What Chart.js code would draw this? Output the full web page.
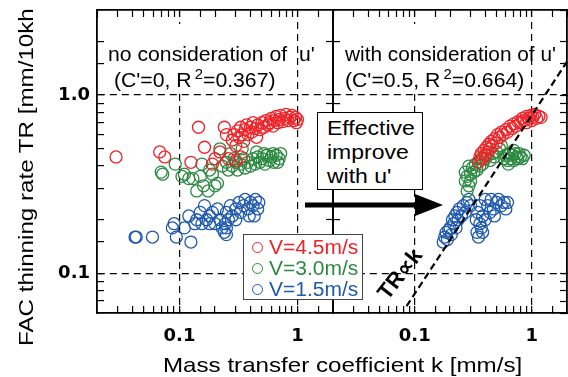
<!DOCTYPE html>
<html>
<head>
<meta charset="utf-8">
<script src="https://cdn.jsdelivr.net/npm/chart.js"></script>
<style>
  body { margin: 0; background: #fff; }
  #wrap { position: relative; width: 568px; height: 377px; overflow: hidden; font-family: "Liberation Sans", Arial, sans-serif; color: #000; }
  canvas { position: absolute; top: 0; }
  .abs { position: absolute; white-space: nowrap; }
  .st { display: inline-block; transform-origin: 0 50%; }
  .mask { position: absolute; background: #fff; }
</style>
</head>
<body>
<div id="wrap">
  <canvas id="left" width="334" height="377" style="left:0"></canvas>
  <canvas id="right" width="236" height="377" style="left:332px"></canvas>

  <div class="mask" style="left:106px;top:24px;width:186px;height:69px"></div>
  <div class="mask" style="left:342px;top:24px;width:186px;height:69px"></div>

  <div class="abs" style="left:108px;top:44px;font-size:20px;line-height:20px">
    <span class="st" style="transform:scaleX(1.06)">no consideration of&nbsp; u'</span><br>
    <span class="st" style="transform:scaleX(1.06)">&nbsp;(C'=0, R<sup style="font-size:14px;vertical-align:8px;margin-left:3px">2</sup>=0.367)</span>
  </div>
  <div class="abs" style="left:345px;top:44px;font-size:20px;line-height:20px">
    <span class="st" style="transform:scaleX(1.04)">with consideration of u'</span><br>
    <span class="st" style="transform:scaleX(1.06)">(C'=0.5, R<sup style="font-size:14px;vertical-align:8px;margin-left:3px">2</sup>=0.664)</span>
  </div>

  <div class="abs" style="left:317px;top:112px;width:104px;height:76px;border:1px solid #000;background:#fff;font-size:20px;line-height:24px">
    <div style="padding:3px 0 0 9px">
      <span class="st" style="transform:scaleX(1.15)">Effective</span><br>
      <span class="st" style="transform:scaleX(1.15)">improve</span><br>
      <span class="st" style="transform:scaleX(1.15)">with u'</span>
    </div>
  </div>

  <svg class="abs" style="left:0;top:0" width="568" height="377">
    <line x1="305" y1="205" x2="420" y2="205" stroke="#000" stroke-width="5"/>
    <polygon points="415,194 443,205 415,216" fill="#000"/>
  </svg>

  <div id="legend" class="abs" style="left:243px;top:234px;width:118px;height:64px;border:1px solid #444;background:#fff"></div>

  <div class="abs" style="left:400px;top:274px;font-size:22px;font-weight:bold;transform:translate(-50%,-50%) rotate(-52deg)">TR∝k</div>

  <div class="abs" style="left:15px;top:346px;font-size:21px;line-height:22px;transform-origin:0 0;transform:rotate(-90deg) scaleX(1.15)">FAC thinning rate TR [mm/10kh</div>
  <div class="abs" style="left:163px;top:355px;font-size:21px;line-height:20px;transform-origin:0 0;transform:scaleX(1.15)">Mass transfer coefficient k [mm/s]</div>
</div>

<script>
// axis ranges and tick labels
const kRange = [0.02, 2];
const trRange = [0.06, 3];
const xTickLabels = { 0.1: "0.1", 1: "1" };
const yTickLabels = { 0.1: "0.1", 1: "1.0" };
const crossTicks = [2, 0.9, 0.2, 0.08];

const seriesNames = ["V=4.5m/s", "V=3.0m/s", "V=1.5m/s"];
const seriesColors = ["#ee2328", "#2c8a43", "#1f5aae"];

// [k, TR] without u' (C'=0)
const v45Before = [
  [0.029,0.45],[0.068,0.48],[0.075,0.45],[0.145,0.66],[0.125,0.42],[0.163,0.51],[0.19,0.41],[0.24,0.66],[0.25,0.6],[0.22,0.48],
  [0.2,0.44],[0.26,0.44],[0.3,0.43],[0.33,0.45],
  [0.28,0.56],[0.29,0.6],[0.3,0.52],[0.31,0.63],[0.32,0.58],[0.33,0.66],[0.34,0.6],[0.35,0.55],[0.36,0.64],[0.37,0.68],
  [0.38,0.6],[0.4,0.66],[0.41,0.62],[0.42,0.7],[0.44,0.65],[0.45,0.58],[0.46,0.68],[0.48,0.64],[0.5,0.7],[0.52,0.66],
  [0.54,0.72],[0.56,0.68],[0.58,0.7],[0.6,0.74],[0.62,0.67],[0.64,0.72],[0.66,0.76],[0.68,0.7],[0.7,0.73],[0.72,0.77],
  [0.75,0.71],[0.78,0.74],[0.8,0.78],[0.83,0.72],[0.86,0.75],[0.9,0.77],[0.93,0.72],[0.96,0.75],[1.0,0.73],[0.98,0.7]
];
const v30Before = [
  [0.07,0.37],[0.092,0.41],[0.072,0.36],[0.105,0.35],[0.12,0.34],[0.13,0.34],[0.14,0.29],[0.175,0.29],[0.16,0.31],[0.155,0.41],
  [0.2,0.31],[0.21,0.32],[0.22,0.5],[0.18,0.38],[0.19,0.36],[0.23,0.4],[0.25,0.42],[0.26,0.38],[0.11,0.36],[0.15,0.35],
  [0.28,0.4],[0.3,0.42],[0.31,0.38],[0.33,0.41],[0.35,0.44],[0.36,0.39],[0.38,0.42],[0.4,0.4],[0.42,0.44],[0.44,0.41],
  [0.46,0.45],[0.48,0.42],[0.5,0.44],[0.53,0.41],[0.55,0.46],[0.58,0.43],[0.6,0.45],[0.63,0.42],[0.66,0.46],[0.7,0.44],
  [0.72,0.47],[0.34,0.5],[0.29,0.44],[0.27,0.47],[0.45,0.48],[0.52,0.47],[0.62,0.47],[0.68,0.42]
];
const v15Before = [
  [0.042,0.16],[0.043,0.16],[0.059,0.16],[0.087,0.18],[0.094,0.16],[0.09,0.19],[0.11,0.18],[0.125,0.15],[0.12,0.21],[0.135,0.19],
  [0.14,0.2],[0.15,0.22],[0.155,0.19],[0.163,0.24],[0.17,0.2],[0.18,0.21],[0.19,0.22],[0.2,0.19],[0.21,0.23],[0.22,0.2],
  [0.23,0.18],[0.24,0.17],[0.245,0.19],[0.25,0.22],[0.26,0.2],[0.27,0.24],[0.28,0.21],[0.3,0.23],[0.32,0.25],[0.33,0.22],
  [0.35,0.24],[0.36,0.26],[0.38,0.23],[0.4,0.25],[0.42,0.24],[0.44,0.26],[0.46,0.23],[0.47,0.25],[0.43,0.21],[0.25,0.165],
  [0.25,0.18],[0.39,0.21],[0.18,0.19],[0.3,0.2]
];

// [k, TR] with u' (C'=0.5)
const v45After = [
  [0.35,0.42],[0.36,0.45],[0.37,0.47],[0.38,0.44],[0.39,0.49],[0.4,0.46],[0.41,0.51],[0.42,0.48],[0.43,0.53],[0.44,0.5],
  [0.45,0.55],[0.46,0.52],[0.48,0.57],[0.5,0.54],[0.51,0.6],[0.53,0.58],[0.55,0.62],[0.57,0.6],[0.6,0.64],[0.62,0.62],
  [0.65,0.67],[0.68,0.65],[0.7,0.69],[0.73,0.67],[0.76,0.71],[0.8,0.7],[0.83,0.74],[0.86,0.72],[0.9,0.76],[0.94,0.74],
  [0.98,0.77],[1.02,0.75],[1.06,0.78],[1.1,0.74],[1.15,0.76],[1.2,0.75],[0.9,0.7],[1.0,0.72]
];
const v30After = [
  [0.27,0.37],[0.27,0.33],[0.28,0.29],[0.28,0.35],[0.29,0.4],[0.29,0.31],[0.3,0.36],[0.3,0.33],[0.31,0.39],[0.32,0.37],
  [0.33,0.41],[0.34,0.38],[0.35,0.42],[0.36,0.4],[0.37,0.44],[0.38,0.41],[0.4,0.44],[0.42,0.46],[0.44,0.43],[0.46,0.47],
  [0.48,0.45],[0.5,0.48],[0.53,0.5],[0.55,0.52],[0.58,0.44],[0.6,0.46],[0.62,0.43],[0.64,0.47],[0.66,0.44],[0.68,0.46],
  [0.7,0.43],[0.72,0.47],[0.74,0.45],[0.76,0.44],[0.78,0.47],[0.8,0.45],[0.83,0.44],[0.86,0.46],[0.63,0.41],[0.7,0.49]
];
const v15After = [
  [0.175,0.15],[0.18,0.16],[0.185,0.17],[0.19,0.155],[0.195,0.175],[0.2,0.18],[0.205,0.165],[0.21,0.2],[0.215,0.19],[0.22,0.21],
  [0.225,0.18],[0.23,0.22],[0.235,0.2],[0.24,0.23],[0.25,0.21],[0.26,0.24],[0.27,0.22],[0.28,0.25],[0.29,0.26],[0.3,0.24],
  [0.335,0.2],[0.34,0.17],[0.345,0.22],[0.35,0.16],[0.36,0.19],[0.37,0.18],[0.38,0.21],[0.36,0.24],[0.4,0.26],[0.42,0.24],
  [0.44,0.22],[0.45,0.26],[0.47,0.23],[0.5,0.25],[0.52,0.26],[0.55,0.24],[0.58,0.25],[0.6,0.23],[0.62,0.25],[0.48,0.21],
  [0.4,0.2],[0.38,0.17]
];

// TR proportional to k
const trendK = [0.085, 2];
const trendC = 0.77;

const near = (a, b) => Math.abs(a - b) / b < 1e-6;
const isMajor = (v) => Math.abs(Math.log10(v) - Math.round(Math.log10(v))) < 1e-6;
const labelFor = (v, map) => {
  for (const key in map) if (near(v, +key)) return map[key];
  return "";
};
const clear = "rgba(0,0,0,0)";
const tickVal = (c) => (c.tick ? c.tick.value : NaN);

// fixed axis thickness, no label overflow padding
const fixSize = (size) => (s) => {
  if (s.isHorizontal()) s.height = size; else s.width = size;
  s.paddingLeft = s.paddingRight = s.paddingTop = s.paddingBottom = 0;
};

function scatterSet(points, i) {
  return {
    label: seriesNames[i],
    data: points.map((p) => ({ x: p[0], y: p[1] })),
    borderColor: seriesColors[i],
    backgroundColor: clear,
    borderWidth: 1.3,
    pointRadius: 6,
    pointHoverRadius: 6,
  };
}

function panel(id, datasets, first) {
  const tickFont = { family: "DejaVu Sans", size: 18, weight: "bold" };
  const axis = (position, range, extra) => Object.assign({
    type: "logarithmic",
    position,
    min: range[0],
    max: range[1],
    border: { display: true, color: "#000", width: 1.8, dash: [7, 5] },
  }, extra);

  const scales = {
    x: axis("bottom", kRange, {
      afterFit: fixSize(64),
      grid: {
        color: (c) => (isMajor(tickVal(c)) ? "#000" : clear),
        lineWidth: 1.2, tickLength: -7, tickWidth: 1.2, tickColor: "#000",
      },
      ticks: { autoSkip: false, maxRotation: 0, padding: 20, color: "#000", font: tickFont,
        callback: (v) => labelFor(v, xTickLabels) },
    }),
    xt: axis("top", kRange, {
      afterFit: fixSize(10),
      grid: { drawOnChartArea: false, tickLength: -7, tickWidth: 1.2, tickColor: "#000" },
      ticks: { display: false },
    }),
    y: axis("left", trRange, {
      afterFit: fixSize(first ? 97 : 1),
      grid: {
        color: (c) => (isMajor(tickVal(c)) ? "#000" : clear),
        lineWidth: 1.2, tickLength: -7, tickWidth: 1.2,
        tickColor: (c) => (first || crossTicks.some((t) => near(tickVal(c), t)) ? "#000" : clear),
      },
      ticks: { display: first, autoSkip: false, padding: 14, color: "#000", font: tickFont,
        callback: (v) => labelFor(v, yTickLabels) },
    }),
    yr: axis("right", trRange, {
      afterFit: fixSize(1),
      grid: {
        drawOnChartArea: false, tickLength: -7, tickWidth: 1.2,
        tickColor: (c) => (!first || crossTicks.some((t) => near(tickVal(c), t)) ? "#000" : clear),
      },
      ticks: { display: false },
    }),
  };

  return new Chart(document.getElementById(id), {
    type: "scatter",
    data: { datasets },
    options: {
      responsive: false,
      animation: false,
      layout: { padding: 0, autoPadding: false },
      scales,
      plugins: { legend: { display: false }, tooltip: { enabled: false } },
    },
  });
}

panel("left", [
  scatterSet(v45Before, 0),
  scatterSet(v30Before, 1),
  scatterSet(v15Before, 2),
], true);

panel("right", [
  {
    type: "line",
    label: "TR∝k",
    data: trendK.map((k) => ({ x: k, y: trendC * k })),
    borderColor: "#000",
    borderWidth: 2.2,
    borderDash: [7, 4],
    pointRadius: 0,
    showLine: true,
  },
  scatterSet(v45After, 0),
  scatterSet(v30After, 1),
  scatterSet(v15After, 2),
], false);

// legend box
const legend = document.getElementById("legend");
seriesNames.forEach((name, i) => {
  const row = document.createElement("div");
  row.className = "abs";
  row.style.cssText = `left:8px;top:${2 + i * 21}px;height:21px;line-height:21px;font-size:20px;color:${seriesColors[i]}`;
  row.innerHTML = `<span style="display:inline-block;width:9px;height:9px;border:1.3px solid ${seriesColors[i]};border-radius:50%;vertical-align:1px;margin-right:6px"></span>` +
    `<span class="st" style="transform:scaleX(1.05)">${name}</span>`;
  legend.appendChild(row);
});
</script>
</body>
</html>
